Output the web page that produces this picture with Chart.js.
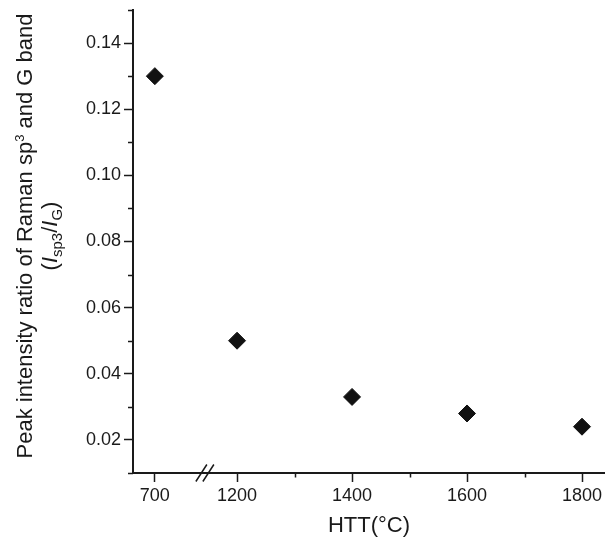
<!DOCTYPE html>
<html>
<head>
<meta charset="utf-8">
<script src="https://cdn.jsdelivr.net/npm/chart.js@4.4.0/dist/chart.umd.min.js"></script>
<style>
    html, body { margin: 0; padding: 0; background: #ffffff; }
    #wrap { width: 605px; height: 538px; }
</style>
</head>
<body>
<div id="wrap"><canvas id="ramanChart" width="605" height="538"></canvas></div>
<script>
// Raman sp3/G intensity ratio vs heat treatment temperature
const htt = [700, 1200, 1400, 1600, 1800];
const ratio = [0.130, 0.050, 0.033, 0.028, 0.024];

const xMajorTicks = [700, 1200, 1400, 1600, 1800];
const xMinorTicks = [1300, 1500, 1700];
const yMajorTicks = [0.02, 0.04, 0.06, 0.08, 0.10, 0.12, 0.14];
const yMinorTicks = [0.01, 0.03, 0.05, 0.07, 0.09, 0.11, 0.13, 0.15];

// broken x axis: 700 sits left of the break, the rest is linear
const BREAK_LOW_POS = 1057;
const BREAK_MARK_POS = 1144;
const axisPos = t => (t < 1000 ? BREAK_LOW_POS : t);

const INK = '#1a1a1a';
const FONT = '"Liberation Sans", Arial, Helvetica, sans-serif';

function drawRich(ctx, parts, cx, cy) {
    let total = 0;
    parts.forEach(p => {
        ctx.font = p.font;
        p.w = ctx.measureText(p.text).width;
        total += p.w;
    });
    let x = cx - total / 2;
    parts.forEach(p => {
        ctx.font = p.font;
        ctx.fillText(p.text, x, cy + (p.dy || 0));
        x += p.w;
    });
}

const axisExtras = {
    id: 'axisExtras',
    afterDraw(chart) {
        const { ctx, chartArea, scales } = chart;
        const xs = scales.x, ys = scales.y;
        ctx.save();
        ctx.strokeStyle = INK;
        ctx.lineWidth = 1.5;

        // minor ticks
        ctx.beginPath();
        xMinorTicks.forEach(v => {
            const px = Math.round(xs.getPixelForValue(v)) + 0.5;
            ctx.moveTo(px, chartArea.bottom);
            ctx.lineTo(px, chartArea.bottom + 4.5);
        });
        yMinorTicks.forEach(v => {
            const py = Math.round(ys.getPixelForValue(v)) + 0.5;
            ctx.moveTo(chartArea.left - 5, py);
            ctx.lineTo(chartArea.left, py);
        });
        ctx.stroke();

        // axis break marks
        const c = xs.getPixelForValue(BREAK_MARK_POS);
        const yb = chartArea.bottom;
        ctx.beginPath();
        [-3.5, 3.5].forEach(off => {
            ctx.moveTo(c + off - 5.5, yb + 8.5);
            ctx.lineTo(c + off + 5.5, yb - 8.5);
        });
        ctx.stroke();

        // y axis title (two lines, rich text)
        ctx.fillStyle = INK;
        ctx.textBaseline = 'alphabetic';
        ctx.textAlign = 'left';
        const midY = 236;

        ctx.save();
        ctx.translate(32, midY);
        ctx.rotate(-Math.PI / 2);
        drawRich(ctx, [
            { text: 'Peak intensity ratio of Raman sp', font: '22px ' + FONT },
            { text: '3', font: '13px ' + FONT, dy: -8 },
            { text: ' and G band', font: '22px ' + FONT }
        ], 0, 0);
        ctx.restore();

        ctx.save();
        ctx.translate(57, midY);
        ctx.rotate(-Math.PI / 2);
        drawRich(ctx, [
            { text: '(', font: '22px ' + FONT },
            { text: 'I', font: 'italic 22px ' + FONT },
            { text: 'sp3', font: '15px ' + FONT, dy: 5 },
            { text: '/', font: '22px ' + FONT },
            { text: 'I', font: 'italic 22px ' + FONT },
            { text: 'G', font: '15px ' + FONT, dy: 5 },
            { text: ')', font: '22px ' + FONT }
        ], 0, 0);
        ctx.restore();

        ctx.restore();
    }
};

document.addEventListener('DOMContentLoaded', function() {
    const ctx = document.getElementById('ramanChart');

    new Chart(ctx, {
        type: 'scatter',
        data: {
            datasets: [{
                data: htt.map((t, i) => ({ x: axisPos(t), y: ratio[i] })),
                pointStyle: 'rectRot',
                pointRadius: 8.5,
                pointHoverRadius: 8.5,
                backgroundColor: '#111111',
                borderColor: '#111111',
                borderWidth: 1
            }]
        },
        options: {
            responsive: false,
            animation: false,
            events: [],
            layout: {
                autoPadding: false,
                padding: { top: 10, right: 0, bottom: 0, left: 0 }
            },
            plugins: {
                legend: { display: false },
                tooltip: { enabled: false }
            },
            scales: {
                x: {
                    type: 'linear',
                    min: 1019,
                    max: 1840,
                    afterBuildTicks: scale => {
                        scale.ticks = xMajorTicks.map(v => ({ value: axisPos(v) }));
                    },
                    afterFit: scale => {
                        scale.height = 65;
                        scale.paddingLeft = 0;
                        scale.paddingRight = 0;
                    },
                    ticks: {
                        autoSkip: false,
                        maxRotation: 0,
                        padding: 3,
                        color: INK,
                        font: { family: FONT, size: 18 },
                        callback: (v, i) => String(xMajorTicks[i])
                    },
                    grid: {
                        drawOnChartArea: false,
                        drawTicks: true,
                        tickLength: 9,
                        tickWidth: 1.5,
                        tickColor: INK
                    },
                    border: { display: true, color: INK, width: 2 },
                    title: {
                        display: true,
                        text: 'HTT(°C)',
                        color: INK,
                        font: { family: FONT, size: 22, lineHeight: 1 },
                        padding: { top: 0, bottom: 1 }
                    }
                },
                y: {
                    type: 'linear',
                    min: 0.01,
                    max: 0.15,
                    afterBuildTicks: scale => {
                        scale.ticks = yMajorTicks.map(v => ({ value: v }));
                    },
                    afterFit: scale => {
                        scale.width = 133;
                        scale.paddingTop = 0;
                        scale.paddingBottom = 0;
                    },
                    ticks: {
                        padding: 3,
                        color: INK,
                        font: { family: FONT, size: 18 },
                        callback: v => v.toFixed(2)
                    },
                    grid: {
                        drawOnChartArea: false,
                        drawTicks: true,
                        tickLength: 9,
                        tickWidth: 1.5,
                        tickColor: INK
                    },
                    border: { display: true, color: INK, width: 2 }
                }
            }
        },
        plugins: [axisExtras]
    });
});
</script>
</body>
</html>
